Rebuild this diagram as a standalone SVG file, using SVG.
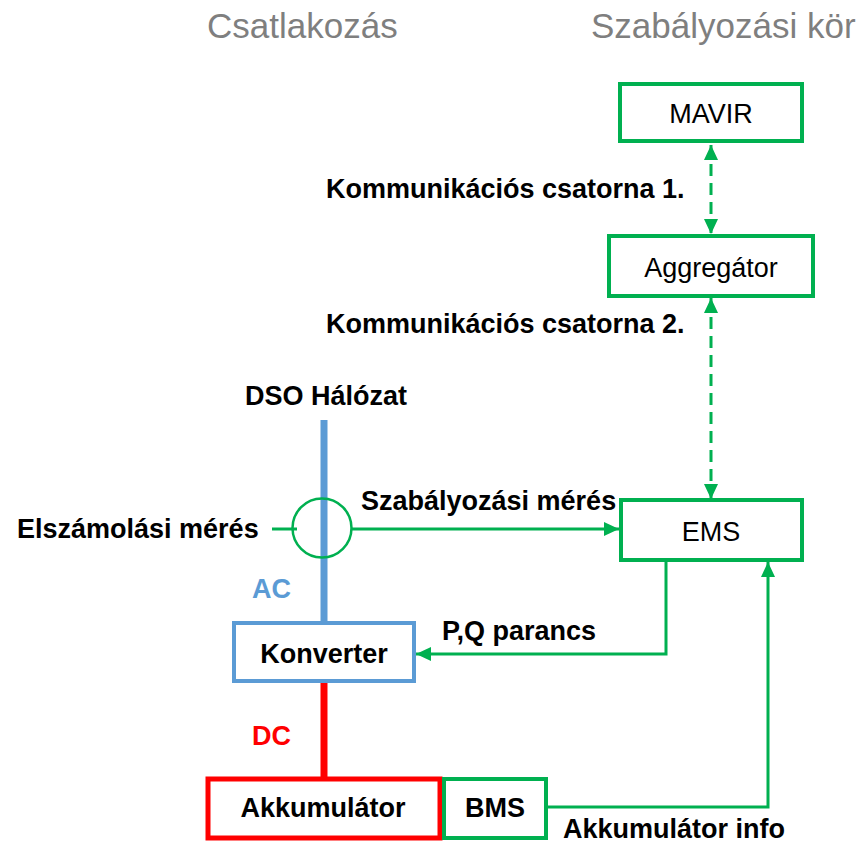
<svg xmlns="http://www.w3.org/2000/svg" width="866" height="846" viewBox="0 0 866 846">
<defs>
<style>
.t{font-family:"Liberation Sans",Arial,sans-serif;font-size:27px;font-weight:bold;fill:#000}
.r{font-family:"Liberation Sans",Arial,sans-serif;font-size:27px;fill:#000;text-anchor:middle}
.h{font-family:"Liberation Sans",Arial,sans-serif;font-size:35px;fill:#7f7f7f}
.g{fill:#fff;stroke:#00b050;stroke-width:4}
.c{fill:none;stroke:#00b050;stroke-width:3}
.d{fill:none;stroke:#00b050;stroke-width:3;stroke-dasharray:12 7}
</style>
<marker id="a" markerUnits="userSpaceOnUse" markerWidth="16" markerHeight="16" viewBox="0 0 16 16" refX="15" refY="8" orient="auto-start-reverse">
<path d="M0,1 L15,8 L0,15 Z" fill="#00b050"/>
</marker>
</defs>
<rect width="866" height="846" fill="#fff"/>
<text class="h" x="207" y="38">Csatlakozás</text>
<text class="h" x="591" y="38">Szabályozási kör</text>

<g id="connectors">
<line x1="324" y1="420" x2="324" y2="623" stroke="#5b9bd5" stroke-width="7"/>
<line x1="324" y1="681" x2="324" y2="778" stroke="#ff0000" stroke-width="7"/>
<line class="d" x1="711" y1="145" x2="711" y2="234" marker-start="url(#a)" marker-end="url(#a)"/>
<line class="d" x1="711" y1="298" x2="711" y2="499" marker-start="url(#a)" marker-end="url(#a)"/>
<line class="c" x1="352" y1="529" x2="619" y2="529" marker-end="url(#a)"/>
<line class="c" x1="272" y1="529" x2="297" y2="529"/>
<polyline class="c" points="666,562 666,654 416,654" marker-end="url(#a)"/>
<polyline class="c" points="547,807 768,807 768,562" marker-end="url(#a)"/>
</g>

<g id="meter"><circle cx="322" cy="528" r="29.5" fill="none" stroke="#00b050" stroke-width="2.5"/></g>

<g id="mavir"><rect class="g" x="620" y="84" width="182" height="57"/><text class="r" x="711" y="123">MAVIR</text></g>
<g id="aggregator"><rect class="g" x="609" y="236" width="204" height="60"/><text class="r" x="711" y="277">Aggregátor</text></g>
<g id="ems"><rect class="g" x="621" y="500" width="181" height="60"/><text class="r" x="711" y="541">EMS</text></g>
<g id="konverter"><rect x="234" y="623" width="180" height="58" fill="#fff" stroke="#5b9bd5" stroke-width="4"/><text class="t" x="324" y="663" text-anchor="middle">Konverter</text></g>
<g id="akkumulator"><rect x="208" y="779" width="232" height="59" fill="#fff" stroke="#ff0000" stroke-width="5"/><text class="t" x="323" y="817" text-anchor="middle">Akkumulátor</text></g>
<g id="bms"><rect class="g" x="444" y="779" width="102" height="59"/><text class="t" x="495" y="817" text-anchor="middle">BMS</text></g>

<g id="labels">
<text class="t" x="326" y="198">Kommunikációs csatorna 1.</text>
<text class="t" x="326" y="333">Kommunikációs csatorna 2.</text>
<text class="t" x="326" y="405" text-anchor="middle">DSO Hálózat</text>
<text class="t" x="17" y="538">Elszámolási mérés</text>
<text class="t" x="361" y="510">Szabályozási mérés</text>
<text class="t" x="252" y="598" style="fill:#5b9bd5">AC</text>
<text class="t" x="442" y="640">P,Q parancs</text>
<text class="t" x="252" y="745" style="fill:#ff0000">DC</text>
<text class="t" x="563" y="838">Akkumulátor info</text>
</g>
</svg>
